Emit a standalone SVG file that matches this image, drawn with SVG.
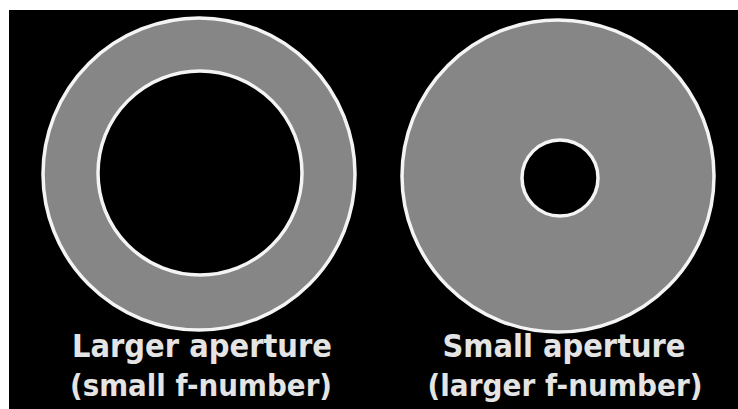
<svg xmlns="http://www.w3.org/2000/svg" width="738" height="409" viewBox="0 0 738 409">
  <style>
    .disc { fill: #868686; stroke: #f4f4f4; stroke-width: 3.5; }
    .hole { fill: #000000; stroke: #f4f4f4; stroke-width: 3.5; }
    .lbl { font-family: "DejaVu Sans", "Liberation Sans", sans-serif; font-weight: bold; font-size: 32px; fill: #e4e4e4; text-anchor: middle; }
    .lbl2 { font-size: 30px; }
  </style>
  <rect x="0" y="0" width="738" height="409" fill="#ffffff"/>
  <rect x="9" y="10" width="729" height="399" fill="#000000"/>
  <g id="large-aperture">
    <circle class="disc" cx="199" cy="174" r="156"/>
    <circle class="hole" cx="200" cy="173" r="102"/>
    <text class="lbl" x="202" y="357" textLength="260" lengthAdjust="spacingAndGlyphs">Larger aperture</text>
    <text class="lbl lbl2" x="201" y="396" textLength="262" lengthAdjust="spacingAndGlyphs">(small f-number)</text>
  </g>
  <g id="small-aperture">
    <circle class="disc" cx="558" cy="176" r="156"/>
    <circle class="hole" cx="560" cy="178" r="38"/>
    <text class="lbl" x="564" y="357" textLength="243" lengthAdjust="spacingAndGlyphs">Small aperture</text>
    <text class="lbl lbl2" x="565" y="396" textLength="275" lengthAdjust="spacingAndGlyphs">(larger f-number)</text>
  </g>
  <g id="connectors"/>
</svg>
